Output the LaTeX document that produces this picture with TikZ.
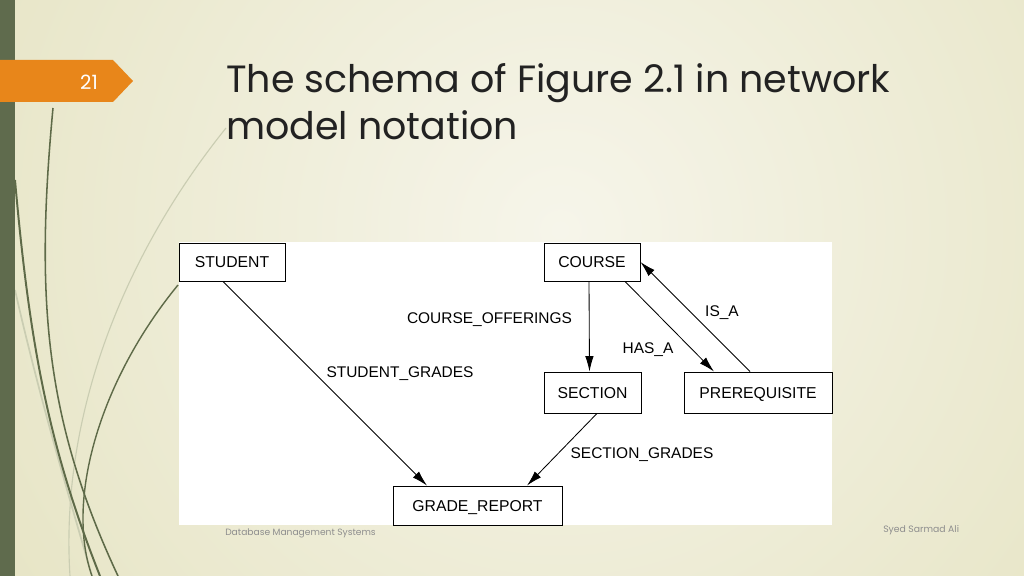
\documentclass[tikz,border=0pt]{standalone}
\usepackage{fontspec}
\setmainfont{Liberation Sans}
\newfontfamily\slidefont{Poppins}
\usetikzlibrary{arrows.meta,calc}
\definecolor{bgin}{HTML}{F6F5EA}
\definecolor{bgout}{HTML}{E7E5C6}
\definecolor{bargreen}{HTML}{5F6B4D}
\definecolor{curvedark}{HTML}{5E6A48}
\definecolor{curvelight}{HTML}{CACDB2}
\definecolor{taborange}{HTML}{E8861A}
\definecolor{titlegray}{HTML}{222222}
\definecolor{footgray}{HTML}{8E8E8E}
\tikzset{
  entity/.style={draw, line width=0.6pt, inner sep=0pt, text height=8pt, text depth=0pt,
    font=\fontsize{11.2}{13}\selectfont},
  setlink/.style={line width=0.6pt, -{Latex[length=11pt,width=6pt]}},
  setname/.style={anchor=base, inner sep=0pt, font=\fontsize{11}{13}\selectfont}
}

\begin{document}
\begin{tikzpicture}[x=0.025cm, y=-0.025cm]
\useasboundingbox (0,0) rectangle (1024,576);
\fill[bgout] (0,0) rectangle (1024,576);
\begin{scope}
\clip (0,0) rectangle (1024,576);
\shade[inner color=bgin, outer color=bgout] (560,230) circle (650);
\end{scope}
\draw[curvelight, line width=0.8pt] (226,128) .. controls (120,260) and (60,420) .. (70,576);
\draw[curvelight, line width=1.2pt] (15,290) .. controls (40,400) and (70,500) .. (92,576);
\draw[curvedark, line width=1pt] (178,285) .. controls (100,380) and (65,500) .. (92,576);
\draw[curvedark, line width=1.1pt] (53,108) .. controls (35,300) and (45,420) .. (118,576);
\draw[curvedark, line width=1.4pt] (15,180) .. controls (30,350) and (50,450) .. (100,576);
\fill[bargreen] (0,0) rectangle (15,576);
\fill[taborange] (0,60) -- (113,60) -- (133,81) -- (113,102) -- (0,102) -- cycle;
\node[anchor=base, text=white, font=\slidefont\fontsize{14}{16}\selectfont] (pagenum) at (89,90) {21};
\node[anchor=base west, inner sep=0pt, text=titlegray, font=\slidefont\fontsize{27}{32}\selectfont] (titleone) at (226,93) {The schema of Figure 2.1 in network};
\node[anchor=base west, inner sep=0pt, text=titlegray, font=\slidefont\fontsize{27}{32}\selectfont] (titletwo) at (226,140) {model notation};
\fill[white] (179,242) rectangle (832,525);
\node[entity, minimum width=2.65cm, minimum height=0.95cm] (student) at (232,262) {STUDENT};
\node[entity, minimum width=2.4cm, minimum height=0.95cm] (course) at (592,262) {COURSE};
\node[entity, minimum width=2.425cm, minimum height=1.025cm] (section) at (592.5,392.5) {SECTION};
\node[entity, minimum width=3.7cm, minimum height=1.025cm] (prereq) at (758,392.5) {PREREQUISITE};
\node[entity, minimum width=4.225cm, minimum height=0.975cm] (grade) at (477.5,505.5) {GRADE\_REPORT};
\draw[setlink] ($(student.south)+(-9,0)$) -- ($(grade.north)+(-50.5,0)$);
\draw[setlink] ($(course.south)+(-3,0)$) -- ($(section.north)+(-3,0)$);
\draw[setlink] ($(course.south)+(33,0)$) -- ($(prereq.north)+(-44,0)$);
\draw[setlink] ($(prereq.north)+(-8,0)$) -- (course.east);
\draw[setlink] ($(section.south)+(4.5,0)$) -- ($(grade.north)+(49.5,0)$);
\node[setname] (offerings) at (489.5,323.5) {COURSE\_OFFERINGS};
\node[setname] (stgrades) at (400,377.5) {STUDENT\_GRADES};
\node[setname] (hasa) at (648,353.5) {HAS\_A};
\node[setname] (isa) at (722,316.5) {IS\_A};
\node[setname] (secgrades) at (642,458.5) {SECTION\_GRADES};
\node[anchor=base west, inner sep=0pt, text=footgray, font=\slidefont\fontsize{6.5}{8}\selectfont] (footleft) at (225,535) {Database Management Systems};
\node[anchor=base west, inner sep=0pt, text=footgray, font=\slidefont\fontsize{6.6}{8}\selectfont] (footright) at (883,532) {Syed Sarmad Ali};
\end{tikzpicture}
\end{document}
